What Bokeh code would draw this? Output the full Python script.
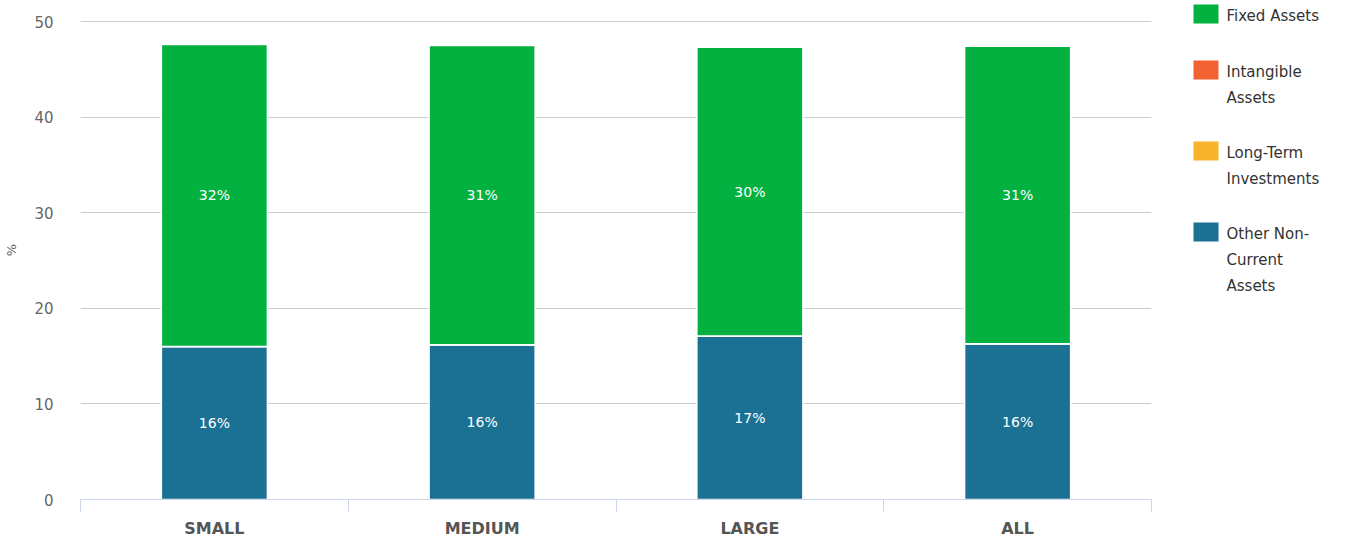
from bokeh.plotting import figure
from bokeh.layouts import row
from bokeh.models import Range1d, FixedTicker, ColumnDataSource
from bokeh.core.properties import value
from bokeh.embed import file_html
from bokeh.resources import INLINE

categories = ["SMALL", "MEDIUM", "LARGE", "ALL"]
series_names = ["Fixed Assets", "Intangible Assets", "Long-Term Investments", "Other Non-Current Assets"]
legend_lines = [["Fixed Assets"], ["Intangible", "Assets"], ["Long-Term", "Investments"], ["Other Non-", "Current", "Assets"]]
fixed_assets = [31.6, 31.3, 30.2, 31.1]
intangible_assets = [0.0, 0.0, 0.0, 0.0]
long_term_investments = [0.0, 0.0, 0.0, 0.0]
other_non_current = [16.0, 16.2, 17.1, 16.3]
y_ticks = [0, 10, 20, 30, 40, 50]
y_max = 50
colors = ["#02b140", "#f26232", "#f9b42d", "#1a7194"]

FONT = "DejaVu Sans"
H = 542
BOTTOM = 43          # px below the zero line
TOP_GAP = 21         # px between the top of the page and the y_max gridline
frame_h = H - BOTTOM
y_top = y_max * frame_h / (frame_h - TOP_GAP)

xs = [i + 0.5 for i in range(len(categories))]
data = dict(x=xs, fixed=fixed_assets, intangible=intangible_assets,
            long_term=long_term_investments, other=other_non_current)
src = ColumnDataSource(data)

p = figure(width=1175, height=H, output_backend="svg", toolbar_location=None,
           x_range=Range1d(0, len(categories)), y_range=Range1d(0, y_top),
           min_border_left=80, min_border_right=24, min_border_top=0, min_border_bottom=BOTTOM)
p.outline_line_color = None
p.background_fill_color = "white"
p.border_fill_color = "white"

# stack: bottom -> top
p.vbar_stack(["other", "long_term", "intangible", "fixed"], x="x", width=0.396, source=src,
             color=[colors[3], colors[2], colors[1], colors[0]],
             line_color="white", line_width=1.5)

# data labels
lab_x, lab_y, lab_t = [], [], []
for i in range(len(categories)):
    segs = [other_non_current[i], long_term_investments[i], intangible_assets[i], fixed_assets[i]]
    base = 0.0
    for v in segs:
        if v > 0:
            lab_x.append(xs[i]); lab_y.append(base + v / 2); lab_t.append(f"{round(v)}%")
        base += v
p.text(x=lab_x, y=lab_y, text=lab_t, text_color="white", text_font=value(FONT),
       text_font_size="14px", text_align="center", text_baseline="middle")

# y axis
p.yaxis.ticker = FixedTicker(ticks=y_ticks)
p.yaxis.axis_line_color = None
p.yaxis.major_tick_line_color = None
p.yaxis.minor_tick_line_color = None
p.yaxis.major_label_text_font = FONT
p.yaxis.major_label_text_font_size = "15px"
p.yaxis.major_label_text_color = "#666666"
p.yaxis.major_label_standoff = 21
p.yaxis.axis_label = "%"
p.yaxis.axis_label_text_font = FONT
p.yaxis.axis_label_text_font_style = "normal"
p.yaxis.axis_label_text_font_size = "13px"
p.yaxis.axis_label_text_color = "#666666"
p.yaxis.axis_label_standoff = 12

# x axis
p.xaxis.ticker = FixedTicker(ticks=xs, minor_ticks=list(range(len(categories) + 1)))
p.xaxis.major_label_overrides = {x: c for x, c in zip(xs, categories)}
p.xaxis.axis_line_color = "#ccd6eb"
p.xaxis.major_tick_line_color = None
p.xaxis.major_tick_out = 0
p.xaxis.major_tick_in = 0
p.xaxis.minor_tick_line_color = "#ccd6eb"
p.xaxis.minor_tick_out = 13
p.xaxis.minor_tick_in = 0
p.xaxis.major_label_text_font = FONT
p.xaxis.major_label_text_font_style = "bold"
p.xaxis.major_label_text_font_size = "16px"
p.xaxis.major_label_text_color = "#555555"
p.xaxis.major_label_standoff = 6

p.xgrid.grid_line_color = None
p.ygrid.grid_line_color = "#cccccc"
p.ygrid.grid_line_width = 1

# legend panel (data units == screen pixels)
lg = figure(width=186, height=H, output_backend="svg", toolbar_location=None,
            x_range=Range1d(0, 186), y_range=Range1d(frame_h, 0),
            min_border_left=0, min_border_right=0, min_border_top=0, min_border_bottom=BOTTOM)
lg.axis.visible = False
lg.grid.visible = False
lg.outline_line_color = None
lg.background_fill_color = "white"
lg.border_fill_color = "white"

item_tops = [4, 60, 141, 222]
sq_x, sq_y, sq_c = [], [], []
tx, ty, tt = [], [], []
for k, name in enumerate(series_names):
    sq_x.append(30.5); sq_y.append(item_tops[k] + 9.5); sq_c.append(colors[k])
    for j, line in enumerate(legend_lines[k]):
        tx.append(51); ty.append(item_tops[k] + 11 + 26 * j); tt.append(line)
lg.rect(x=sq_x, y=sq_y, width=25, height=19, color=sq_c, line_color=None)
lg.text(x=tx, y=ty, text=tt, text_color="#333333", text_font=value(FONT),
        text_font_size="15px", text_align="left", text_baseline="middle")

layout = row(p, lg, spacing=0)
open("out.html", "w").write(file_html(layout, INLINE))
